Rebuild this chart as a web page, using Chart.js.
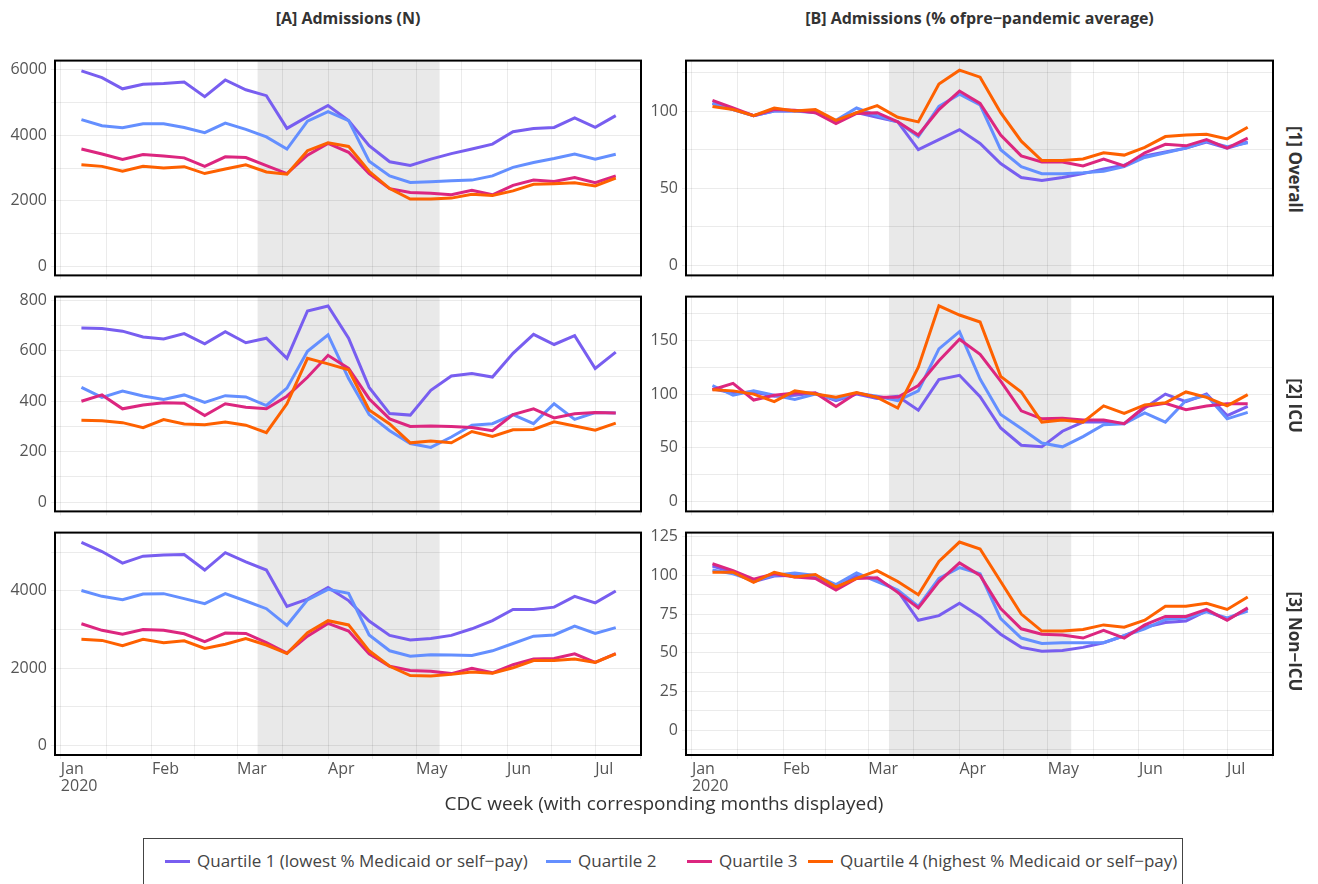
<!DOCTYPE html>
<html>
<head>
<meta charset="utf-8">
<title>Admissions by quartile</title>
<script src="https://cdn.jsdelivr.net/npm/chart.js@4.4.1/dist/chart.umd.min.js"></script>
<style>
  body { margin: 0; background: #fff; font-family: "Open Sans", sans-serif; }
  #wrap { position: relative; width: 1318px; height: 884px; overflow: hidden; }
  canvas { position: absolute; }
  .colTitle { position: absolute; top: 7px; text-align: center; font-weight: bold; font-size: 16px; color: #333; }
  .strip { position: absolute; width: 226px; text-align: center; font-weight: bold; font-size: 17px; color: #333;
           transform: rotate(90deg); transform-origin: center center; white-space: nowrap; }
  .xTitle { position: absolute; left: 55px; width: 1218px; top: 790px; text-align: center; font-size: 19px; color: #333; }
  .legend { position: absolute; left: 143px; top: 838px; width: 1040px; height: 60px; border: 1px solid #444;
            box-sizing: border-box; }
  .legItem { position: absolute; top: 10px; font-size: 17px; color: #444; white-space: nowrap; line-height: 24px; }
  .legItem i { display: inline-block; width: 25px; height: 3px; vertical-align: middle; margin-right: 7px; position: relative; top: -1px; }
</style>
</head>
<body>
<div id="wrap">
  <div class="colTitle" style="left:55px;width:586px">[A] Admissions (N)</div>
  <div class="colTitle" style="left:686px;width:587px">[B] Admissions (% ofpre−pandemic average)</div>

  <canvas id="a1" width="643" height="242" style="left:0;top:47px"></canvas>
  <canvas id="b1" width="630" height="242" style="left:645px;top:47px"></canvas>
  <canvas id="a2" width="643" height="242" style="left:0;top:283px"></canvas>
  <canvas id="b2" width="630" height="242" style="left:645px;top:283px"></canvas>
  <canvas id="a3" width="643" height="282" style="left:0;top:519px"></canvas>
  <canvas id="b3" width="630" height="282" style="left:645px;top:519px"></canvas>

  <div class="strip" style="left:1182px;top:158px">[1] Overall</div>
  <div class="strip" style="left:1182px;top:394px">[2] ICU</div>
  <div class="strip" style="left:1182px;top:630px">[3] Non−ICU</div>

  <div class="xTitle">CDC week (with corresponding months displayed)</div>

  <div class="legend">
    <div class="legItem" style="left:21px"><i style="background:#785EF0"></i>Quartile 1 (lowest % Medicaid or self−pay)</div>
    <div class="legItem" style="left:402px"><i style="background:#648FFF"></i>Quartile 2</div>
    <div class="legItem" style="left:543px"><i style="background:#DC267F"></i>Quartile 3</div>
    <div class="legItem" style="left:664px"><i style="background:#FE6100"></i>Quartile 4 (highest % Medicaid or self−pay)</div>
  </div>
</div>

<script>
// CDC weeks (mid-week dates)
const weeks = ['2020-01-08', '2020-01-15', '2020-01-22', '2020-01-29', '2020-02-05', '2020-02-12', '2020-02-19',
  '2020-02-26', '2020-03-04', '2020-03-11', '2020-03-18', '2020-03-25', '2020-04-01', '2020-04-08', '2020-04-15',
  '2020-04-22', '2020-04-29', '2020-05-06', '2020-05-13', '2020-05-20', '2020-05-27', '2020-06-03', '2020-06-10',
  '2020-06-17', '2020-06-24', '2020-07-01', '2020-07-08'];

const months = ['2020-01-01', '2020-02-01', '2020-03-01', '2020-04-01', '2020-05-01', '2020-06-01', '2020-07-01', '2020-08-01'];
const monthLabels = [['Jan', '2020'], 'Feb', 'Mar', 'Apr', 'May', 'Jun', 'Jul'];

const shadeStart = '2020-03-08';
const shadeEnd = '2020-05-09';

const quartileLabels = ['Quartile 1 (lowest % Medicaid or self−pay)', 'Quartile 2', 'Quartile 3',
  'Quartile 4 (highest % Medicaid or self−pay)'];
const quartileColors = ['#785EF0', '#648FFF', '#DC267F', '#FE6100'];

// [A] admissions (N)
const overallN_q1 = [5970, 5760, 5420, 5560, 5580, 5630, 5180, 5690, 5390, 5210, 4210, 4570, 4910, 4450, 3680, 3190, 3080, 3270, 3440, 3580, 3730, 4110, 4210, 4240, 4530, 4240, 4600];
const overallN_q2 = [4480, 4290, 4230, 4350, 4350, 4240, 4080, 4370, 4180, 3950, 3580, 4430, 4720, 4450, 3210, 2760, 2560, 2580, 2610, 2630, 2760, 3020, 3170, 3290, 3430, 3270, 3420];
const overallN_q3 = [3580, 3430, 3260, 3410, 3370, 3310, 3050, 3340, 3320, 3070, 2830, 3390, 3750, 3480, 2830, 2370, 2250, 2230, 2180, 2320, 2180, 2470, 2630, 2590, 2710, 2550, 2760];
const overallN_q4 = [3100, 3050, 2900, 3050, 3000, 3040, 2830, 2970, 3100, 2880, 2810, 3530, 3770, 3660, 2900, 2370, 2050, 2050, 2080, 2200, 2160, 2300, 2500, 2520, 2550, 2450, 2690];

const icuN_q1 = [690, 688, 678, 655, 647, 668, 628, 676, 632, 650, 570, 758, 778, 650, 455, 351, 345, 443, 500, 510, 496, 590, 665, 625, 660, 530, 595];
const icuN_q2 = [455, 415, 440, 421, 407, 425, 395, 422, 417, 383, 452, 598, 663, 490, 347, 283, 232, 217, 258, 305, 311, 347, 311, 390, 328, 355, 353];
const icuN_q3 = [400, 425, 370, 385, 394, 392, 343, 390, 376, 370, 420, 495, 582, 530, 410, 330, 300, 302, 300, 296, 283, 347, 370, 334, 350, 355, 353];
const icuN_q4 = [325, 323, 315, 295, 327, 310, 307, 318, 305, 275, 390, 570, 548, 525, 365, 310, 235, 242, 235, 280, 260, 287, 288, 318, 302, 285, 313];

const nonIcuN_q1 = [5260, 5020, 4720, 4900, 4930, 4940, 4540, 4990, 4750, 4540, 3600, 3790, 4090, 3750, 3220, 2850, 2730, 2770, 2850, 3020, 3230, 3520, 3520, 3580, 3860, 3690, 4000];
const nonIcuN_q2 = [4010, 3860, 3770, 3920, 3930, 3800, 3670, 3930, 3740, 3540, 3110, 3770, 4040, 3940, 2860, 2450, 2310, 2350, 2340, 2330, 2450, 2640, 2830, 2860, 3090, 2900, 3050];
const nonIcuN_q3 = [3150, 2980, 2880, 3000, 2980, 2890, 2690, 2910, 2900, 2660, 2390, 2830, 3160, 2960, 2370, 2050, 1940, 1920, 1860, 2000, 1880, 2090, 2240, 2250, 2370, 2150, 2380];
const nonIcuN_q4 = [2750, 2720, 2580, 2750, 2660, 2710, 2510, 2620, 2770, 2600, 2380, 2920, 3230, 3120, 2450, 2050, 1810, 1800, 1840, 1900, 1870, 2010, 2200, 2200, 2240, 2150, 2370];

// [B] admissions (% of pre-pandemic average)
const overallP_q1 = [105, 101, 97, 100, 100, 100, 93, 99, 96, 93, 75, 81.5, 88, 79, 66, 57, 55, 57, 59.5, 62.5, 65, 71, 73.5, 76, 80, 76, 80];
const overallP_q2 = [105, 101, 97, 100, 100, 99, 94, 102, 97, 93, 83.5, 103, 111, 104, 75, 64, 59.5, 59.5, 60, 61, 64, 70, 73, 76, 80.5, 77, 79.5];
const overallP_q3 = [107, 102, 97, 101, 100.5, 99, 92, 98.5, 99, 93, 84.5, 101, 113, 105, 84.5, 71, 67, 67, 64.5, 69, 64.5, 73, 78.5, 77.5, 81.5, 76, 82.5];
const overallP_q4 = [103, 101, 97, 102, 100, 101, 94, 99, 103.5, 96, 93, 117.5, 126.5, 122, 99, 80.5, 68, 68, 69, 73, 71.5, 76.5, 83.5, 84.5, 85, 82, 89.5];

const icuP_q1 = [105, 101, 102, 98, 99, 101, 94, 100, 96, 98, 85, 113.5, 117.5, 97.5, 68.5, 52.5, 51, 65.5, 74, 74, 72.5, 87, 100, 93, 100, 80, 88.5];
const icuP_q2 = [108, 99, 103, 99, 95, 100, 95, 101, 98, 94, 103, 142, 158, 114, 81, 68, 54.5, 51, 60.5, 71.5, 72.5, 82.5, 74, 94, 99, 77, 83];
const icuP_q3 = [104, 110, 94.5, 99, 101, 101, 88.5, 101, 97, 97, 108, 131, 151, 137, 112, 84.5, 77, 77.5, 76, 76, 72.5, 88.5, 91.5, 85.5, 89, 91, 91];
const icuP_q4 = [104, 103, 100, 93, 103, 100, 97, 101.5, 97, 87, 125, 182, 173.5, 167, 116.5, 102, 74, 76, 74, 89, 82, 90, 92, 102, 97, 89, 99.5];

const nonIcuP_q1 = [106, 102, 96, 99.5, 100, 99, 91.5, 100, 97.5, 90, 71, 74, 82, 73.5, 62, 53.5, 51, 51.5, 53.5, 56.5, 61, 66.5, 69.5, 70.5, 77, 71.5, 78.5];
const nonIcuP_q2 = [103.5, 101, 96.5, 100, 101.5, 100, 94, 101.5, 96, 90.5, 80, 98, 105, 101, 72, 59.5, 56, 56.5, 56.5, 56.5, 61, 65.5, 71.5, 72.5, 76.5, 72.5, 77];
const nonIcuP_q3 = [107.5, 103, 97.5, 101, 99, 98, 90.5, 98, 98.5, 89, 79, 96, 108, 100, 78.5, 65.5, 62, 61.5, 59.5, 64.5, 59.5, 68, 73.5, 73.5, 78, 71, 79];
const nonIcuP_q4 = [102, 102, 95.5, 102, 99, 100.5, 92.5, 98, 103, 96, 87.5, 109, 121.5, 117, 96, 75, 64, 64, 65, 68, 66.5, 71, 80, 80, 82, 78, 86];

// y tick values (every other one labelled)
const yTicksOverallN = [0, 1000, 2000, 3000, 4000, 5000, 6000];
const yTicksIcuN = [0, 100, 200, 300, 400, 500, 600, 700, 800];
const yTicksNonIcuN = [0, 1000, 2000, 3000, 4000, 5000];
const yTicksOverallP = [0, 25, 50, 75, 100, 125];
const yTicksIcuP = [0, 25, 50, 75, 100, 125, 150, 175];
const yTicksNonIcuP = [-12.5, 0, 12.5, 25, 37.5, 50, 62.5, 75, 87.5, 100, 112.5, 125];

const DAY = 86400000;
const dayOf = s => (Date.parse(s) - Date.parse('2020-01-01')) / DAY;

const xMin = -2;
const xMax = 197.6;
const monthDays = months.map(dayOf);
const xTickVals = [];
monthDays.forEach((d, i) => {
    if (d <= xMax) xTickVals.push(d);
    if (i < monthDays.length - 1) {
        const mid = (d + monthDays[i + 1]) / 2;
        if (mid <= xMax) xTickVals.push(mid);
    }
});

// shaded period + black frame round every panel
const panelPlugin = {
    id: 'panel',
    beforeDraw(chart) {
        const { ctx, chartArea, scales } = chart;
        const x0 = scales.x.getPixelForValue(dayOf(shadeStart));
        const x1 = scales.x.getPixelForValue(dayOf(shadeEnd));
        ctx.save();
        ctx.fillStyle = '#e9e9e9';
        ctx.fillRect(x0, chartArea.top, x1 - x0, chartArea.bottom - chartArea.top);
        ctx.restore();
    },
    afterDraw(chart) {
        const { ctx, chartArea } = chart;
        ctx.save();
        ctx.strokeStyle = '#000';
        ctx.lineWidth = 2;
        ctx.strokeRect(chartArea.left, chartArea.top, chartArea.right - chartArea.left, chartArea.bottom - chartArea.top);
        ctx.restore();
    }
};

const gridColor = 'rgba(0,0,0,0.08)';

function makePanel(id, series, yMin, yMax, yTicks, yMajor, isLeft, showX) {
    const canvas = document.getElementById(id);
    const bottomH = showX ? 46 : 6;
    new Chart(canvas, {
        type: 'line',
        data: {
            datasets: series.map((s, i) => ({
                label: quartileLabels[i],
                data: weeks.map((w, k) => ({ x: dayOf(w), y: s[k] })),
                borderColor: quartileColors[i],
                backgroundColor: quartileColors[i],
                borderWidth: 3,
                pointRadius: 0,
                tension: 0,
                fill: false,
                order: 3 - i
            }))
        },
        options: {
            responsive: false,
            animation: false,
            devicePixelRatio: 1,
            layout: { padding: { top: 10, right: 2, left: 0, bottom: 0 } },
            plugins: { legend: { display: false }, tooltip: { enabled: false } },
            scales: {
                x: {
                    type: 'linear',
                    min: xMin,
                    max: xMax,
                    afterBuildTicks: scale => { scale.ticks = xTickVals.map(v => ({ value: v })); },
                    afterFit: scale => { scale.height = bottomH; },
                    grid: { color: gridColor, lineWidth: 1, drawTicks: true, tickLength: 4 },
                    border: { display: false },
                    ticks: {
                        display: showX,
                        autoSkip: false,
                        maxRotation: 0,
                        align: 'start',
                        padding: 2,
                        color: '#555',
                        font: { family: 'Open Sans', size: 16, lineHeight: 1.05 },
                        callback: v => {
                            const idx = monthDays.indexOf(v);
                            return idx >= 0 && idx < monthLabels.length ? monthLabels[idx] : '';
                        }
                    }
                },
                y: {
                    min: yMin,
                    max: yMax,
                    afterBuildTicks: scale => { scale.ticks = yTicks.map(v => ({ value: v })); },
                    afterFit: scale => { scale.width = isLeft ? 55 : 41; },
                    grid: { color: gridColor, lineWidth: 1, drawTicks: true, tickLength: 4 },
                    border: { display: false },
                    ticks: {
                        autoSkip: false,
                        padding: 4,
                        color: '#555',
                        font: { family: 'Open Sans', size: 16 },
                        callback: v => (v % yMajor === 0 ? String(v) : '')
                    }
                }
            }
        },
        plugins: [panelPlugin]
    });
}

makePanel('a1', [overallN_q1, overallN_q2, overallN_q3, overallN_q4], -282, 6282, yTicksOverallN, 2000, true, false);
makePanel('b1', [overallP_q1, overallP_q2, overallP_q3, overallP_q4], -6.4, 132.7, yTicksOverallP, 50, false, false);
makePanel('a2', [icuN_q1, icuN_q2, icuN_q3, icuN_q4], -37, 815, yTicksIcuN, 200, true, false);
makePanel('b2', [icuP_q1, icuP_q2, icuP_q3, icuP_q4], -9, 190.6, yTicksIcuP, 50, false, false);
makePanel('a3', [nonIcuN_q1, nonIcuN_q2, nonIcuN_q3, nonIcuN_q4], -247, 5510, yTicksNonIcuN, 2000, true, true);
makePanel('b3', [nonIcuP_q1, nonIcuP_q2, nonIcuP_q3, nonIcuP_q4], -16, 127.6, yTicksNonIcuP, 25, false, true);
</script>
</body>
</html>
